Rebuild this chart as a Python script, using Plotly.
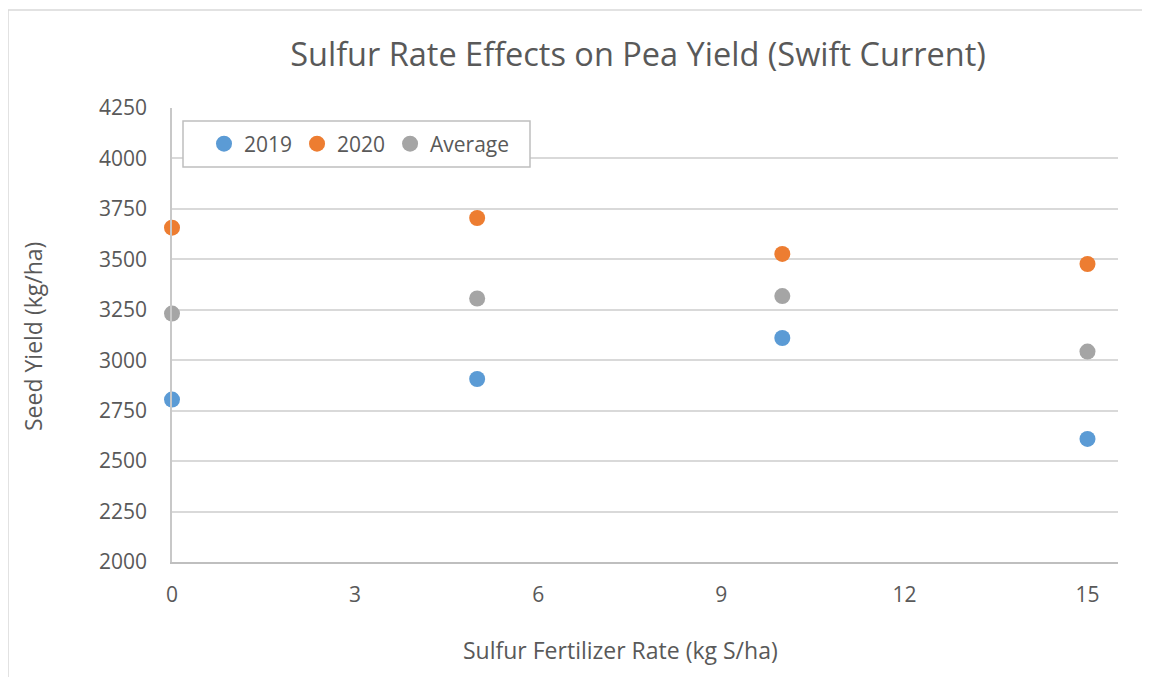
import plotly.graph_objects as go

rates = [0, 5, 10, 15]
yield_2019 = [2805, 2907, 3110, 2610]
yield_2020 = [3657, 3705, 3527, 3477]
yield_avg = [3231, 3306, 3318, 3043]

series = [("2019", yield_2019, "#5B9BD5"),
          ("2020", yield_2020, "#ED7D31"),
          ("Average", yield_avg, "#A5A5A5")]

OFF = 8  # page body margin
W, H = 1150 - OFF, 677 - OFF
# plot area in page coords: x 172..1118, y 108..562
L, R, T, B = 172 - OFF, W - (1118 - OFF), 108 - OFF, H - (562 - OFF)
pw, ph = W - L - R, H - T - B
FONT = "Open Sans"
TXT = "#595959"

fig = go.Figure()
for name, vals, col in series:
    fig.add_trace(go.Scatter(x=rates, y=vals, mode="markers", name=name, cliponaxis=False,
                             marker=dict(color=col, size=16, line=dict(width=0))))

def px_x(p):  # page px -> paper fraction
    return (p - OFF - L) / pw

def px_y(p):
    return (H - B - (p - OFF)) / ph

fig.update_layout(
    width=W, height=H,
    margin=dict(l=L, r=R, t=T, b=B),
    paper_bgcolor="white", plot_bgcolor="white",
    font=dict(family=FONT, color=TXT, size=21),
    title=dict(text="Sulfur Rate Effects on Pea Yield (Swift Current)",
               x=(638 - OFF) / W, xanchor="center", y=1 - (55 - OFF) / H, yanchor="middle",
               font=dict(size=32.5, color=TXT, family=FONT)),
    xaxis=dict(range=[0, 15.5], tickmode="array", tickvals=[0, 3, 6, 9, 12, 15],
               showgrid=False, zeroline=False, showline=True, linecolor="#BFBFBF",
               linewidth=1.5, ticks="", ticklabelstandoff=13,
               tickfont=dict(size=21, color=TXT)),
    yaxis=dict(range=[2000, 4250], tickmode="array",
               tickvals=[2000, 2250, 2500, 2750, 3000, 3250, 3500, 3750, 4000, 4250],
               showgrid=True, gridcolor="#D9D9D9", gridwidth=1.5, zeroline=False,
               showline=True, linecolor="#C8C8C8", linewidth=1.5, ticks="",
               ticklabelstandoff=19, tickfont=dict(size=21, color=TXT)),
    legend=dict(orientation="h", x=px_x(204), xanchor="left", y=px_y(144), yanchor="middle",
                bgcolor="rgba(0,0,0,0)", borderwidth=0,
                font=dict(size=21, color=TXT, family=FONT)),
    showlegend=True,
)

# legend frame
fig.add_shape(type="rect", xref="paper", yref="paper", x0=px_x(183), x1=px_x(530),
              y0=px_y(167), y1=px_y(121), fillcolor="white",
              line=dict(color="#BFBFBF", width=1.5), layer="above")

fig.add_annotation(text="Seed Yield (kg/ha)", xref="paper", yref="paper",
                   x=px_x(33), y=px_y(337), textangle=-90, showarrow=False,
                   xanchor="center", yanchor="middle", font=dict(size=23, color=TXT))
fig.add_annotation(text="Sulfur Fertilizer Rate (kg S/ha)", xref="paper", yref="paper",
                   x=px_x(620), y=px_y(650), showarrow=False,
                   xanchor="center", yanchor="middle", font=dict(size=23, color=TXT))

# chart-area border (left and top edges visible)
fig.add_shape(type="line", xref="paper", yref="paper", x0=px_x(8), x1=px_x(8),
              y0=px_y(10), y1=px_y(700), line=dict(color="#D9D9D9", width=1.5))
fig.add_shape(type="line", xref="paper", yref="paper", x0=px_x(8), x1=px_x(1200),
              y0=px_y(10), y1=px_y(10), line=dict(color="#D9D9D9", width=1.5))

fig.write_html("out.html")
